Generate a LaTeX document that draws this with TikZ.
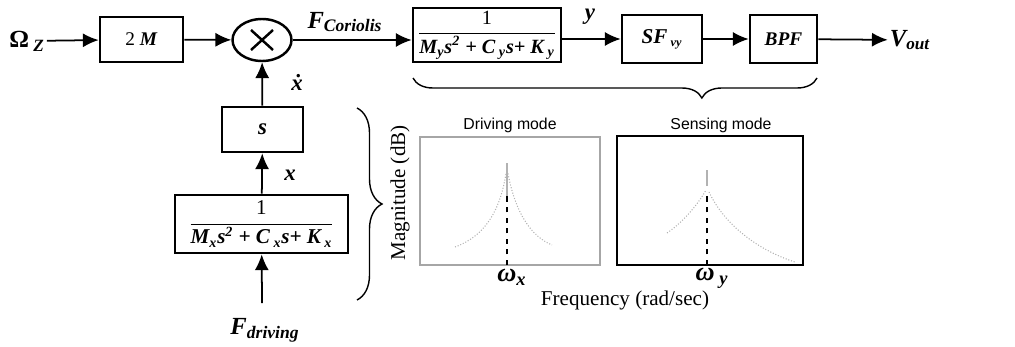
\documentclass[tikz,border=0pt]{standalone}
\usepackage{fontspec}
\setmainfont{Liberation Serif}
\setsansfont{Liberation Sans}
\usepackage{amsmath}
\usetikzlibrary{arrows.meta,shapes.geometric,decorations.pathreplacing}

\begin{document}
\begin{tikzpicture}[>={Latex[length=9pt,width=8pt]},
  block/.style={draw,line width=1.5pt,inner sep=1pt},
  sig/.style={font=\fontsize{14}{14}\selectfont\bfseries\itshape,inner sep=1pt},
  wire/.style={->,line width=1pt},
  curve/.style={gray!60,densely dotted,line width=0.6pt}]
\useasboundingbox (0,0) rectangle (20.3,6.92);

% top chain
\node[sig,font=\fontsize{14}{14}\selectfont\bfseries] (omega) at (0.54,6.1) {Ω\textsubscript{\itshape\ Z}};
\node[block,minimum width=1.66cm,minimum height=0.9cm,font=\fontsize{11}{11}\selectfont] (twoM) at (2.83,6.13) {2 \textbf{\textit{M}}};
\node[draw,ellipse,line width=1.4pt,minimum width=1.18cm,minimum height=0.84cm] (mult) at (5.24,6.12) {};
\draw[line width=1.4pt] (mult.center) ++(-0.22,-0.2) -- ++(0.44,0.4);
\draw[line width=1.4pt] (mult.center) ++(-0.22,0.2) -- ++(0.44,-0.4);
\node[block,minimum width=2.96cm,minimum height=1.08cm,font=\fontsize{11.5}{12}\selectfont] (Gy) at (9.74,6.22)
  {$\dfrac{\text{1}}{\text{\bfseries\itshape M\textsubscript{y}s\textsuperscript{2} + C\textsubscript{ y}s+ K\textsubscript{ y}}}$};
\node[block,minimum width=1.6cm,minimum height=0.96cm,font=\fontsize{12}{12}\selectfont\bfseries\itshape] (SF) at (13.24,6.14) {SF\textsubscript{\scriptsize\ vy}};
\node[block,minimum width=1.34cm,minimum height=0.96cm,font=\fontsize{11}{11}\selectfont\bfseries\itshape] (BPF) at (15.67,6.14) {BPF};
\node[sig] (vout) at (18.2,6.12) {V\textsubscript{out}};

\draw[wire] (omega) -- (twoM);
\draw[wire] (twoM) -- (mult);
\draw[wire] (mult) -- (mult -| Gy.west);
\draw[wire] (Gy.east |- SF) -- (SF);
\draw[wire] (SF) -- (BPF);
\draw[wire] (BPF) -- (vout);

\node[sig] (fcor) at (6.9,6.48) {F\textsubscript{\fontsize{10}{10}\selectfont Coriolis}};
\node[sig,font=\fontsize{13}{13}\selectfont\bfseries\itshape] (ylbl) at (11.8,6.58) {y};

% driving chain
\node[block,minimum width=1.62cm,minimum height=0.9cm,font=\fontsize{13}{13}\selectfont\bfseries\itshape] (sbox) at (5.25,4.33) {s};
\node[block,minimum width=3.46cm,minimum height=1.16cm,font=\fontsize{12}{12}\selectfont] (Gx) at (5.23,2.44)
  {$\dfrac{\text{1}}{\text{\bfseries\itshape M\textsubscript{x}s\textsuperscript{2} + C\textsubscript{ x}s+ K\textsubscript{ x}}}$};
\coordinate (fin) at (5.24,0.86);

\draw[wire] (sbox) -- (mult);
\draw[wire] (Gx) -- (sbox);
\draw[wire] (fin) -- (Gx);

\node[sig,font=\fontsize{13}{13}\selectfont\bfseries\itshape] (xdot) at (5.94,5.28) {\.x};
\node[sig,font=\fontsize{13}{13}\selectfont\bfseries\itshape] (xlbl) at (5.8,3.42) {x};
\node[sig] (fdrv) at (5.3,0.32) {F\textsubscript{\fontsize{10}{10}\selectfont driving}};

% braces
\draw[line width=0.8pt,decorate,decoration={brace,amplitude=0.5cm}] (7.14,4.76) -- (7.14,0.92);
\draw[line width=0.8pt,decorate,decoration={brace,amplitude=0.4cm,aspect=0.285}] (16.34,5.36) -- (8.26,5.36);

% frequency plots
\draw[gray!70,line width=0.6pt] (8.4,1.62) rectangle (12.0,4.18);
\draw[line width=1.2pt] (12.34,1.62) rectangle (16.06,4.2);
\node[font=\sffamily\fontsize{9}{9}\selectfont] (drvT) at (10.2,4.42) {Driving mode};
\node[font=\sffamily\fontsize{9}{9}\selectfont] (senT) at (14.42,4.42) {Sensing mode};
\node[rotate=90,font=\fontsize{12}{12}\selectfont] (mag) at (8.0,3.06) {Magnitude (dB)};
\node[font=\fontsize{12}{12}\selectfont] (freq) at (12.5,0.92) {Frequency (rad/sec)};
\node[font=\fontsize{15}{15}\selectfont\bfseries\itshape,inner sep=1pt] (wx) at (10.24,1.38) {ω\textsubscript{x}};
\node[font=\fontsize{15}{15}\selectfont\bfseries\itshape,inner sep=1pt] (wy) at (14.24,1.36) {ω\textsubscript{ y}};

\draw[curve] (9.1,1.98) .. controls (9.7,2.2) and (10.0,2.7) .. (10.12,3.45);
\draw[curve] (10.16,3.45) .. controls (10.3,2.7) and (10.6,2.2) .. (11.04,2.02);
\draw[gray!60,line width=0.6pt] (10.14,3.0) -- (10.14,3.66);
\draw[dashed,line width=1.2pt] (10.14,1.62) -- (10.14,3.0);

\draw[curve] (13.34,2.26) .. controls (13.7,2.5) and (14.0,2.9) .. (14.12,3.12);
\draw[curve] (14.18,3.08) .. controls (14.5,2.4) and (15.2,1.9) .. (15.9,1.68);
\draw[gray!60,line width=0.6pt] (14.14,3.2) -- (14.14,3.52);
\draw[dashed,line width=1.4pt] (14.14,1.62) -- (14.14,3.02);
\end{tikzpicture}
\end{document}
